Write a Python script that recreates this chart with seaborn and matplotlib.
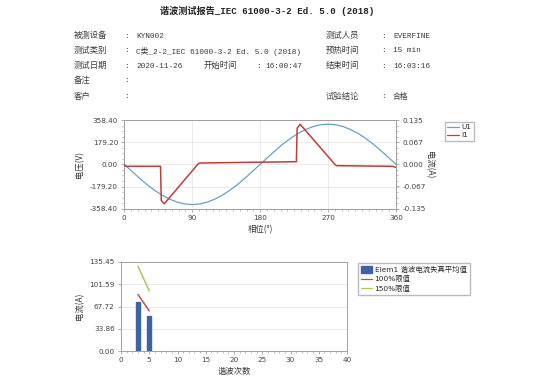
import matplotlib
matplotlib.use("Agg")
import matplotlib.pyplot as plt
import numpy as np
import pandas as pd
import seaborn as sns
from matplotlib.lines import Line2D
from matplotlib.patches import Patch
from matplotlib.ticker import MultipleLocator, FixedLocator

sns.set_theme(style="white")
plt.rcParams['font.family'] = ['Liberation Mono', 'Noto Sans CJK SC', 'DejaVu Sans']

# ---------------- data ----------------
title = "谐波测试报告_IEC 61000-3-2 Ed. 5.0 (2018)"
info_left_labels = ["被测设备", "测试类别", "测试日期", "备注", "客户"]
info_left_values = ["KYN002", "C类_2-2_IEC 61000-3-2 Ed. 5.0 (2018)", "2020-11-26", "", ""]
info_right_labels = ["测试人员", "预热时间", "结束时间", "", "试验结论"]
info_right_values = ["EVERFINE", "15 min", "16:03:16", "", "合格"]
start_label = "开始时间"
start_value = "16:00:47"

phase_u = [0, 10, 20, 30, 40, 50, 60, 70, 80, 90, 100, 110, 120, 130, 140, 150, 160, 170, 180,
           190, 200, 210, 220, 230, 240, 250, 260, 270, 280, 290, 300, 310, 320, 330, 340, 350, 360]
u1 = [0, -56, -111, -163, -209, -249, -281, -305, -320, -325, -320, -305, -281, -249, -209, -163, -111, -56, 0,
      56, 111, 163, 209, 249, 281, 305, 320, 325, 320, 305, 281, 249, 209, 163, 111, 56, 0]

phase_i = [0, 2, 48, 49, 53, 98, 100, 160, 228, 229, 233, 279, 281, 355, 360]
i1 = [-0.002, -0.006, -0.006, -0.110, -0.120, 0.002, 0.004, 0.006, 0.008, 0.110, 0.122, 0.000, -0.004, -0.006, -0.009]

v_ticks = [-358.40, -179.20, 0.00, 179.20, 358.40]
i_ticks = [-0.135, -0.067, 0.000, 0.067, 0.135]
phase_ticks = [0, 90, 180, 270, 360]

harm_order = [3, 5]
harm_avg = [75.0, 53.7]
limit_order = [3, 5]
limit_100 = [86.0, 61.0]
limit_150 = [129.0, 91.5]
harm_yticks = [0.00, 33.86, 67.72, 101.59, 135.45]
harm_xticks = [0, 5, 10, 15, 20, 25, 30, 35, 40]

# ---------------- style ----------------
C_U = "#6b9fc2"
C_I = "#b8403c"
C_BAR = "#3a64a6"
C_L100 = "#c0504d"
C_L150 = "#a8c85a"
SPINE = "#a0a0a0"
GRID = "#e6e6e6"
TICKFONT = dict(family=['DejaVu Sans'], size=5.2, color="#404040")

W, H = 540, 380
fig = plt.figure(figsize=(W / 100, H / 100), dpi=100)
fig.patch.set_facecolor("white")

def fx(x):
    return x / W

def fy(y):
    return 1 - y / H

# ---------------- header ----------------
fig.text(fx(267), fy(10.5), title, ha="center", va="center", fontsize=6.6, fontweight="bold", color="#222222")
row_y = [36, 51, 66, 81, 97]
for k, yy in enumerate(row_y):
    fig.text(fx(74), fy(yy), info_left_labels[k], ha="left", va="center", fontsize=6.0, color="#3a3a3a")
    fig.text(fx(124), fy(yy), ":", ha="left", va="center", fontsize=5.5, color="#3a3a3a")
    if info_left_values[k]:
        fig.text(fx(136), fy(yy), info_left_values[k], ha="left", va="center", fontsize=5.6, color="#3a3a3a")
    if info_right_labels[k]:
        fig.text(fx(326), fy(yy), info_right_labels[k], ha="left", va="center", fontsize=6.0, color="#3a3a3a")
        fig.text(fx(381), fy(yy), ":", ha="left", va="center", fontsize=5.5, color="#3a3a3a")
        fig.text(fx(393), fy(yy), info_right_values[k], ha="left", va="center", fontsize=5.6, color="#3a3a3a")
fig.text(fx(204), fy(66), start_label, ha="left", va="center", fontsize=6.0, color="#3a3a3a")
fig.text(fx(256), fy(66), ":", ha="left", va="center", fontsize=5.5, color="#3a3a3a")
fig.text(fx(265), fy(66), start_value, ha="left", va="center", fontsize=5.6, color="#3a3a3a")

# ---------------- top chart ----------------
ax1 = fig.add_axes([fx(124.3), fy(208.7), fx(396 - 124.3), (208.7 - 120) / H])
df_u = pd.DataFrame({"phase": phase_u, "U1": u1})
df_i = pd.DataFrame({"phase": phase_i, "I1": i1})
sns.lineplot(data=df_u, x="phase", y="U1", ax=ax1, color=C_U, linewidth=0.9, zorder=3)
ax1.set_xlim(0, 360)
ax1.set_ylim(-358.4, 358.4)
ax1.xaxis.set_major_locator(FixedLocator(phase_ticks))
ax1.xaxis.set_minor_locator(MultipleLocator(9))
ax1.set_yticks(v_ticks)
ax1.set_yticklabels([f"{v:.2f}" for v in v_ticks])
ax1.yaxis.set_minor_locator(MultipleLocator(179.2 / 4))
ax1.set_xticklabels([str(p) for p in phase_ticks])
ax1.grid(True, which="major", color=GRID, linewidth=0.6)
ax1.set_xlabel("相位(°)", fontsize=6, labelpad=3, color="#333333", family=['Noto Sans CJK SC', 'DejaVu Sans'])
ax1.set_ylabel("电压(V)", fontsize=6, labelpad=4, color="#333333", family=['Noto Sans CJK SC', 'DejaVu Sans'])

ax2 = ax1.twinx()
sns.lineplot(data=df_i, x="phase", y="I1", ax=ax2, color=C_I, linewidth=1.1, zorder=4)
ax2.set_ylim(-0.135, 0.135)
ax2.set_yticks(i_ticks)
ax2.set_yticklabels([f"{v:.3f}" for v in i_ticks])
ax2.yaxis.set_minor_locator(MultipleLocator(0.0675 / 4))
ax2.set_ylabel("电流(A)", fontsize=6, labelpad=6, rotation=270, color="#333333",
               family=['Noto Sans CJK SC', 'DejaVu Sans'])
ax2.set_xlabel("")

for ax in (ax1, ax2):
    for s in ax.spines.values():
        s.set_color(SPINE)
        s.set_linewidth(0.7)
    ax.tick_params(which="major", length=2.5, width=0.6, color=SPINE, pad=2)
    ax.tick_params(which="minor", length=1.5, width=0.5, color=SPINE)
    for lab in ax.get_xticklabels() + ax.get_yticklabels():
        lab.set_fontfamily(TICKFONT["family"])
        lab.set_fontsize(TICKFONT["size"])
        lab.set_color(TICKFONT["color"])
ax1.tick_params(axis="x", which="both", bottom=True)
ax1.tick_params(axis="y", which="both", left=True)
ax2.tick_params(axis="y", which="both", right=True)

fig.legend(handles=[Line2D([], [], color=C_U, lw=0.9), Line2D([], [], color=C_I, lw=0.9)],
           labels=["U1", "I1"], loc="upper left", bbox_to_anchor=(fx(441), fy(118)),
           frameon=True, fancybox=False, edgecolor="#bbbbbb", framealpha=1,
           handlelength=1.6, handletextpad=0.4, borderpad=0.35, labelspacing=0.3,
           prop={'family': ['DejaVu Sans'], 'size': 5.2})

# ---------------- bottom chart ----------------
ax3 = fig.add_axes([fx(121), fy(351), fx(347 - 121), (351 - 262) / H])
df_h = pd.DataFrame({"order": harm_order, "avg": harm_avg})
df_l = pd.DataFrame({"order": limit_order, "l100": limit_100, "l150": limit_150})
sns.barplot(data=df_h, x="order", y="avg", ax=ax3, native_scale=True, width=0.33,
            color=C_BAR, saturation=1, edgecolor=C_BAR, zorder=3)
sns.lineplot(data=df_l, x="order", y="l100", ax=ax3, color=C_L100, linewidth=1.1, zorder=4)
sns.lineplot(data=df_l, x="order", y="l150", ax=ax3, color=C_L150, linewidth=1.1, zorder=4)
ax3.set_xlim(0, 40)
ax3.set_ylim(0, 135.45)
ax3.xaxis.set_major_locator(FixedLocator(harm_xticks))
ax3.xaxis.set_minor_locator(MultipleLocator(1))
ax3.set_xticklabels([str(t) for t in harm_xticks])
ax3.set_yticks(harm_yticks)
ax3.set_yticklabels([f"{v:.2f}" for v in harm_yticks])
ax3.grid(True, axis="y", which="major", color=GRID, linewidth=0.6)
ax3.grid(False, axis="x")
ax3.set_axisbelow(True)
ax3.set_xlabel("谐波次数", fontsize=6, labelpad=3, color="#333333", family=['Noto Sans CJK SC', 'DejaVu Sans'])
ax3.set_ylabel("电流(A)", fontsize=6, labelpad=4, color="#333333", family=['Noto Sans CJK SC', 'DejaVu Sans'])
for s in ax3.spines.values():
    s.set_color(SPINE)
    s.set_linewidth(0.7)
ax3.tick_params(which="major", length=2.5, width=0.6, color=SPINE, pad=2, bottom=True, left=True)
ax3.tick_params(which="minor", length=1.5, width=0.5, color=SPINE, bottom=True)
for lab in ax3.get_xticklabels() + ax3.get_yticklabels():
    lab.set_fontfamily(TICKFONT["family"])
    lab.set_fontsize(TICKFONT["size"])
    lab.set_color(TICKFONT["color"])

fig.legend(handles=[Patch(facecolor=C_BAR, edgecolor=C_BAR),
                    Line2D([], [], color=C_L100, lw=0.9),
                    Line2D([], [], color=C_L150, lw=0.9)],
           labels=["Elem1 谐波电流失真平均值", "100%限值", "150%限值"],
           loc="upper left", bbox_to_anchor=(fx(354), fy(259)),
           frameon=True, fancybox=False, edgecolor="#bbbbbb", framealpha=1,
           handlelength=1.5, handleheight=0.9, handletextpad=0.4, borderpad=0.4, labelspacing=0.3,
           prop={'family': ['DejaVu Sans', 'Noto Sans CJK SC'], 'size': 5.3})

fig.savefig("out.png", dpi=100, facecolor="white")
